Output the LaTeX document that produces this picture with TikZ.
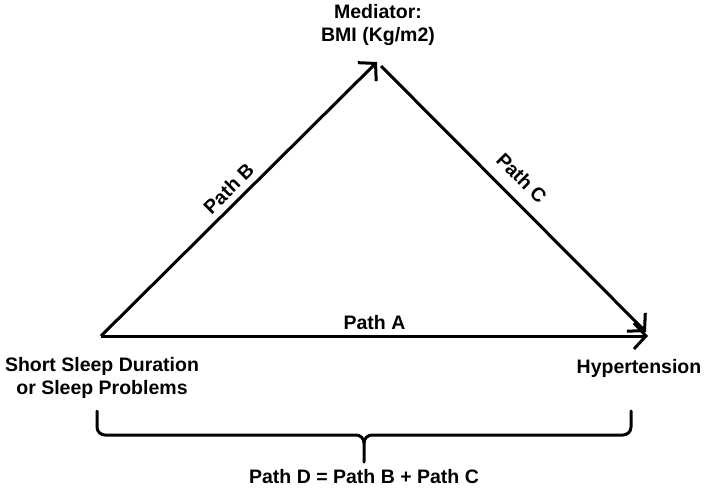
\documentclass[tikz,border=0pt]{standalone}
\usepackage{fontspec}
\setmainfont{Liberation Sans}
\usetikzlibrary{arrows.meta}
\begin{document}
\begin{tikzpicture}[x=1pt,y=-1pt,
  lbl/.style={font=\fontsize{19.5}{23.5}\selectfont\bfseries, inner sep=0pt, align=center},
  conn/.style={line width=3pt, -{Straight Barb[length=12pt,width=26pt,line width=3pt]}},
  plain/.style={line width=3pt, line cap=round}]
\useasboundingbox (0,0) rectangle (704,490);
\coordinate (L) at (101,336);
\coordinate (T) at (377,62);
\coordinate (Ts) at (381,66);
\coordinate (R) at (648,336);
\coordinate (Rc) at (646,332);
\node[lbl] (med) at (378,25) {Mediator:\\BMI (Kg/m2)};
\node[lbl] (ssd) at (102,378) {Short Sleep Duration\\or Sleep Problems};
\node[lbl] (hyp) at (639,368) {Hypertension};
\draw[conn] (L) -- (T) node[lbl, pos=0.5, above=6pt, sloped] (pb) {Path B};
\draw[conn] (Ts) -- (Rc) node[lbl, pos=0.476, above=12pt, sloped] (pc) {Path C};
\draw[conn] (L) -- (R) node[lbl, midway, above=5pt] (pa) {Path A};
\coordinate (bl) at (97,411);
\coordinate (br) at (631,411);
\coordinate (bm) at (364,462);
\draw[plain] (bl) -- (97,427) to[out=-90,in=180] (105,435) -- (356,435) to[out=0,in=90] (364,443) -- (bm);
\draw[plain] (br) -- (631,427) to[out=-90,in=0] (623,435) -- (372,435) to[out=180,in=90] (364,443);
\node[lbl] (pd) at (364,477) {Path D = Path B + Path C};
\end{tikzpicture}
\end{document}
